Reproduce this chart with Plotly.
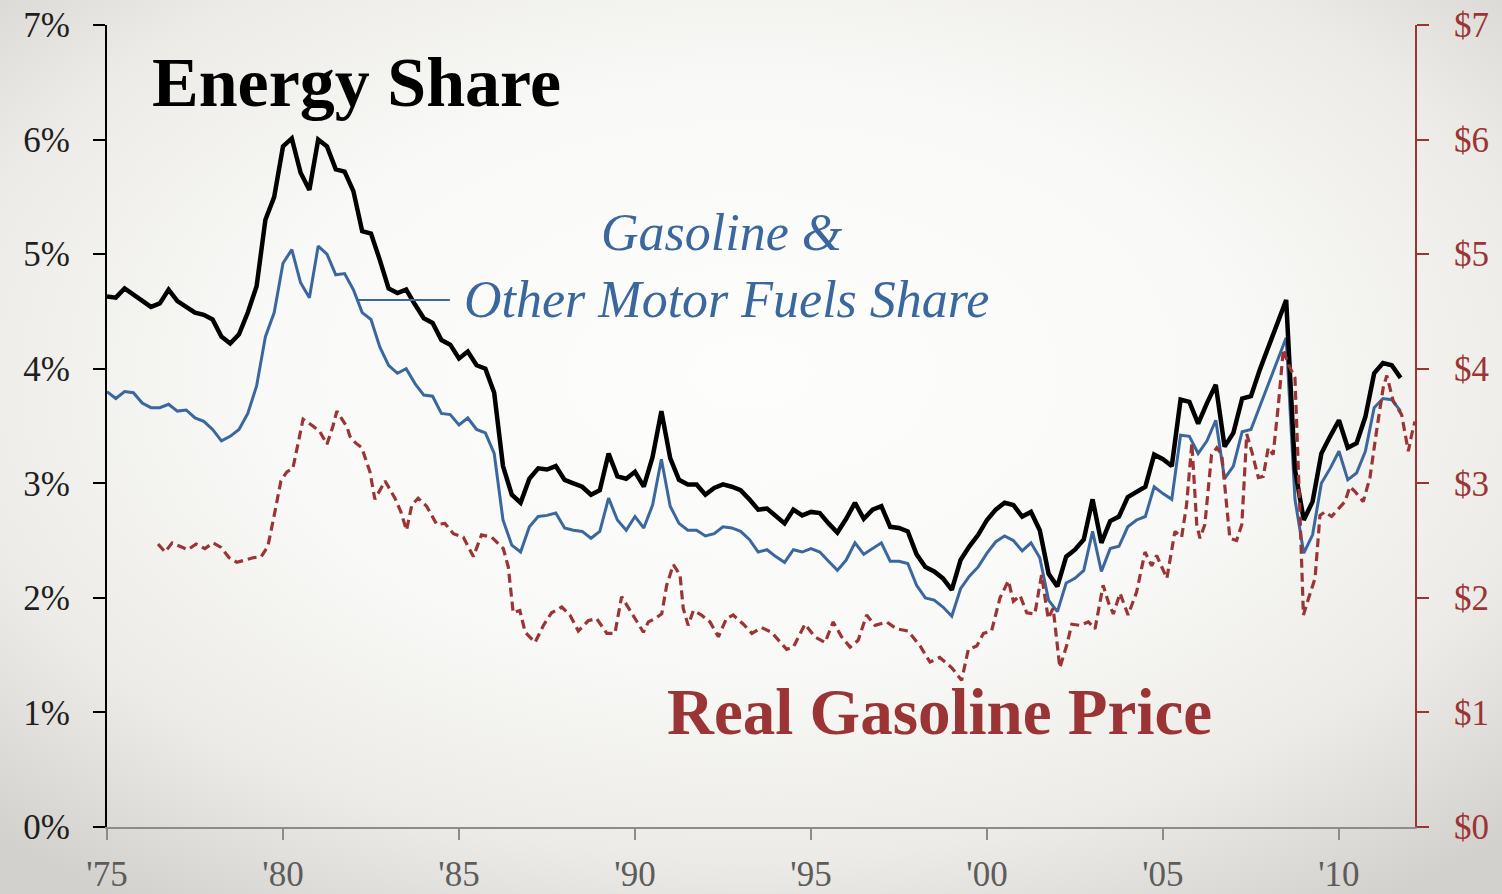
import base64
import numpy as np
import plotly.graph_objects as go

# ---------------- data ----------------
# quarterly, 1975Q1 .. 2011Q4
quarters = np.arange(1975.0, 2012.0, 0.25)

energy_share = [
    4.63, 4.62, 4.70, 4.65, 4.59, 4.54, 4.57, 4.69, 4.59, 4.54, 4.49, 4.47,
    4.43, 4.28, 4.22, 4.30, 4.49, 4.72, 5.30, 5.50, 5.94, 6.01, 5.71, 5.56,
    6.00, 5.94, 5.74, 5.72, 5.55, 5.20, 5.18, 4.95, 4.70, 4.66, 4.69, 4.56,
    4.44, 4.40, 4.25, 4.21, 4.09, 4.15, 4.03, 4.00, 3.79, 3.15, 2.90, 2.83,
    3.04, 3.13, 3.12, 3.15, 3.03, 3.00, 2.97, 2.90, 2.94, 3.26, 3.06, 3.04,
    3.10, 2.97, 3.23, 3.63, 3.22, 3.03, 2.99, 2.99, 2.90, 2.96, 2.99, 2.97,
    2.94, 2.86, 2.77, 2.78, 2.71, 2.65, 2.77, 2.72, 2.75, 2.74, 2.65, 2.57,
    2.69, 2.83, 2.69, 2.77, 2.80, 2.62, 2.61, 2.58, 2.38, 2.27, 2.23, 2.17,
    2.07, 2.33, 2.45, 2.55, 2.68, 2.77, 2.83, 2.81, 2.71, 2.75, 2.59, 2.21,
    2.10, 2.36, 2.42, 2.51, 2.86, 2.48, 2.67, 2.71, 2.88, 2.93, 2.97, 3.25,
    3.21, 3.15, 3.73, 3.71, 3.52, 3.70, 3.86, 3.32, 3.44, 3.74, 3.76, 3.99,
    4.19, 4.40, 4.60, 3.12, 2.68, 2.84, 3.26, 3.41, 3.55, 3.31, 3.35, 3.58,
    3.96, 4.05, 4.03, 3.92,
]

motor_fuel_share = [
    3.80, 3.74, 3.80, 3.79, 3.70, 3.66, 3.66, 3.69, 3.63, 3.64, 3.57, 3.54,
    3.47, 3.37, 3.41, 3.47, 3.61, 3.85, 4.28, 4.49, 4.92, 5.04, 4.75, 4.62,
    5.07, 5.00, 4.82, 4.83, 4.69, 4.49, 4.43, 4.19, 4.03, 3.96, 4.00, 3.87,
    3.77, 3.76, 3.61, 3.60, 3.51, 3.57, 3.47, 3.44, 3.26, 2.68, 2.46, 2.40,
    2.62, 2.71, 2.72, 2.74, 2.61, 2.59, 2.58, 2.52, 2.58, 2.87, 2.68, 2.59,
    2.71, 2.61, 2.81, 3.21, 2.80, 2.65, 2.59, 2.59, 2.54, 2.56, 2.62, 2.61,
    2.58, 2.51, 2.40, 2.42, 2.36, 2.31, 2.42, 2.40, 2.43, 2.40, 2.32, 2.24,
    2.33, 2.48, 2.38, 2.43, 2.48, 2.32, 2.32, 2.30, 2.11, 2.00, 1.98, 1.92,
    1.84, 2.08, 2.19, 2.27, 2.39, 2.49, 2.54, 2.50, 2.41, 2.48, 2.35, 1.98,
    1.88, 2.13, 2.17, 2.24, 2.58, 2.23, 2.43, 2.45, 2.62, 2.68, 2.71, 2.97,
    2.91, 2.86, 3.42, 3.41, 3.26, 3.37, 3.55, 3.04, 3.15, 3.45, 3.47, 3.67,
    3.87, 4.06, 4.27, 2.86, 2.39, 2.55, 3.00, 3.13, 3.28, 3.03, 3.09, 3.28,
    3.66, 3.74, 3.73, 3.63,
]

# real gasoline price (dollars), dates as decimal years
price_dates = [
    1976.45, 1976.65, 1976.85, 1977.07, 1977.30, 1977.53, 1977.78, 1978.01, 1978.24, 1978.47,
    1978.69, 1978.92, 1979.15, 1979.38, 1979.57, 1979.77, 1979.94, 1980.11, 1980.28, 1980.43,
    1980.57, 1980.85, 1981.05, 1981.25, 1981.42, 1981.53, 1981.82, 1981.90, 1982.07, 1982.24,
    1982.47, 1982.61, 1982.76, 1982.90, 1983.18, 1983.35, 1983.51, 1983.66, 1983.84, 1984.08,
    1984.37, 1984.60, 1984.84, 1985.12, 1985.41, 1985.64, 1985.93, 1986.26, 1986.40, 1986.54,
    1986.73, 1986.88, 1987.16, 1987.40, 1987.63, 1987.92, 1988.15, 1988.39, 1988.67, 1988.91,
    1989.20, 1989.43, 1989.62, 1989.81, 1990.00, 1990.24, 1990.38, 1990.57, 1990.76, 1990.90,
    1991.09, 1991.28, 1991.37, 1991.51, 1991.66, 1991.89, 1992.13, 1992.37, 1992.60, 1992.79,
    1993.08, 1993.32, 1993.60, 1993.88, 1994.07, 1994.31, 1994.50, 1994.83, 1995.11, 1995.40,
    1995.63, 1995.87, 1996.11, 1996.34, 1996.58, 1996.82, 1997.15, 1997.43, 1997.76, 1998.10,
    1998.38, 1998.66, 1999.00, 1999.28, 1999.47, 1999.71, 1999.90, 2000.13, 2000.37, 2000.61,
    2000.75, 2000.94, 2001.13, 2001.36, 2001.55, 2001.74, 2001.88, 2002.07, 2002.26, 2002.41,
    2002.64, 2002.88, 2003.07, 2003.30, 2003.45, 2003.59, 2003.78, 2004.01, 2004.25, 2004.49,
    2004.68, 2004.82, 2005.11, 2005.34, 2005.53, 2005.67, 2005.82, 2005.96, 2006.05, 2006.19,
    2006.38, 2006.53, 2006.67, 2006.90, 2007.09, 2007.24, 2007.38, 2007.52, 2007.71, 2007.85,
    2007.99, 2008.13, 2008.28, 2008.42, 2008.56, 2008.75, 2008.89, 2008.99, 2009.13, 2009.32,
    2009.46, 2009.60, 2009.79, 2009.98, 2010.17, 2010.31, 2010.45, 2010.69, 2010.88, 2011.07,
    2011.26, 2011.36, 2011.54, 2011.78, 2011.97, 2012.07, 2012.16,
]
price_values = [
    2.47, 2.40, 2.48, 2.45, 2.42, 2.47, 2.43, 2.48, 2.44, 2.35,
    2.31, 2.33, 2.35, 2.36, 2.45, 2.75, 3.02, 3.10, 3.13, 3.35,
    3.56, 3.50, 3.45, 3.34, 3.50, 3.63, 3.49, 3.41, 3.35, 3.31,
    3.10, 2.86, 2.95, 3.02, 2.87, 2.75, 2.59, 2.81, 2.87, 2.80,
    2.64, 2.65, 2.56, 2.53, 2.36, 2.55, 2.53, 2.43, 2.27, 1.87,
    1.89, 1.70, 1.61, 1.76, 1.87, 1.92, 1.85, 1.71, 1.80, 1.82,
    1.69, 1.69, 2.01, 1.92, 1.82, 1.70, 1.79, 1.82, 1.86, 2.11,
    2.29, 2.20, 1.91, 1.76, 1.89, 1.85, 1.79, 1.66, 1.82, 1.85,
    1.77, 1.69, 1.74, 1.70, 1.63, 1.55, 1.57, 1.77, 1.66, 1.61,
    1.79, 1.66, 1.57, 1.63, 1.85, 1.76, 1.79, 1.73, 1.71, 1.58,
    1.44, 1.48, 1.39, 1.28, 1.55, 1.58, 1.69, 1.71, 2.00, 2.15,
    1.97, 2.02, 1.87, 1.86, 2.20, 1.82, 1.91, 1.39, 1.58, 1.77,
    1.76, 1.79, 1.73, 2.11, 1.96, 1.86, 2.04, 1.85, 2.05, 2.40,
    2.28, 2.37, 2.17, 2.58, 2.53, 2.81, 3.35, 2.64, 2.52, 2.64,
    3.25, 3.31, 3.25, 2.52, 2.50, 2.64, 3.43, 3.28, 3.05, 3.06,
    3.31, 3.25, 3.69, 4.17, 4.04, 3.92, 2.75, 1.85, 1.99, 2.17,
    2.72, 2.75, 2.71, 2.78, 2.84, 2.97, 2.93, 2.84, 3.05, 3.46,
    3.84, 3.94, 3.72, 3.60, 3.28, 3.43, 3.54,
]

x_tick_vals = [1975, 1980, 1985, 1990, 1995, 2000, 2005, 2010]
x_tick_text = ["'75", "'80", "'85", "'90", "'95", "'00", "'05", "'10"]
left_tick_vals = [0, 1, 2, 3, 4, 5, 6, 7]
left_tick_text = ["0%", "1%", "2%", "3%", "4%", "5%", "6%", "7%"]
right_tick_text = ["$0", "$1", "$2", "$3", "$4", "$5", "$6", "$7"]

# ---------------- style ----------------
SERIF = "Liberation Serif, Times New Roman, serif"
BLACK = "#000000"
BLUE = "#3a679d"
RED = "#9b3434"

W, H = 1502, 894
ML, MR, MT, MB = 107, 87, 25, 67
PW, PH = W - ML - MR, H - MT - MB

svg = f"""<svg xmlns='http://www.w3.org/2000/svg' width='{W}' height='{H}' viewBox='0 0 {W} {H}' preserveAspectRatio='none'>
<defs><radialGradient id='g' cx='50%' cy='42%' r='72%'>
<stop offset='0' stop-color='#fdfdfc'/>
<stop offset='0.45' stop-color='#f9f9f7'/>
<stop offset='0.75' stop-color='#ecebe7'/>
<stop offset='1' stop-color='#d3d1cd'/>
</radialGradient></defs>
<rect x='0' y='0' width='{W}' height='{H}' fill='url(#g)'/></svg>"""
bg_src = "data:image/svg+xml;base64," + base64.b64encode(svg.encode()).decode()

fig = go.Figure()

fig.add_trace(go.Scatter(
    x=price_dates, y=price_values, yaxis="y2", mode="lines",
    line=dict(color=RED, width=3.2, dash="9px,5px"), hoverinfo="skip",
))
fig.add_trace(go.Scatter(
    x=quarters, y=motor_fuel_share, mode="lines",
    line=dict(color=BLUE, width=3), hoverinfo="skip",
))
fig.add_trace(go.Scatter(
    x=quarters, y=energy_share, mode="lines",
    line=dict(color=BLACK, width=4.5), hoverinfo="skip",
))

fig.update_layout(
    width=W, height=H,
    template="none",
    showlegend=False,
    margin=dict(l=ML, r=MR, t=MT, b=MB, pad=0),
    paper_bgcolor="#f2f1ee",
    plot_bgcolor="rgba(0,0,0,0)",
    images=[dict(
        source=bg_src, xref="paper", yref="paper",
        x=-ML / PW, y=1 + MT / PH, sizex=W / PW, sizey=H / PH,
        xanchor="left", yanchor="top", sizing="stretch", layer="below",
    )],
    xaxis=dict(
        range=[1975, 2012.16], tickvals=x_tick_vals, ticktext=x_tick_text,
        showgrid=False, zeroline=False, showline=True, linecolor="#8c8c8c", linewidth=2,
        ticks="outside", ticklen=11, tickwidth=2, tickcolor="#8c8c8c",
        tickfont=dict(family=SERIF, size=35, color="#5c5c5c"),
        ticklabelstandoff=4, automargin=False,
    ),
    yaxis=dict(
        range=[0, 7], tickvals=left_tick_vals, ticktext=left_tick_text,
        showgrid=False, zeroline=False, showline=True, linecolor=BLACK, linewidth=2,
        ticks="outside", ticklen=12, tickwidth=2, tickcolor=BLACK,
        tickfont=dict(family=SERIF, size=35, color="#1e1e1e"),
        ticklabelstandoff=16, automargin=False,
    ),
    yaxis2=dict(
        range=[0, 7], tickvals=left_tick_vals, ticktext=right_tick_text,
        overlaying="y", side="right",
        showgrid=False, zeroline=False, showline=True, linecolor=RED, linewidth=2,
        ticks="outside", ticklen=12, tickwidth=2, tickcolor=RED,
        tickfont=dict(family=SERIF, size=35, color=RED),
        ticklabelstandoff=18, automargin=False,
    ),
)

# connector from label to the motor-fuels line
fig.add_shape(type="line", xref="x", yref="y",
              x0=1982.13, x1=1984.74, y0=4.60, y1=4.60,
              line=dict(color=BLUE, width=2))

fig.add_annotation(text="<b>Energy Share</b>", xref="x", yref="y",
                   x=1976.22, y=6.50, xanchor="left", yanchor="middle", showarrow=False,
                   font=dict(family=SERIF, size=70, color=BLACK))
fig.add_annotation(text="<i>Gasoline &</i>", xref="x", yref="y",
                   x=1992.47, y=5.19, xanchor="center", yanchor="middle", showarrow=False,
                   font=dict(family=SERIF, size=52, color=BLUE))
fig.add_annotation(text="<i>Other Motor Fuels Share</i>", xref="x", yref="y",
                   x=1985.09, y=4.60, xanchor="left", yanchor="middle", showarrow=False,
                   font=dict(family=SERIF, size=52, color=BLUE))
fig.add_annotation(text="<b>Real Gasoline Price</b>", xref="x", yref="y",
                   x=1990.85, y=1.00, xanchor="left", yanchor="middle", showarrow=False,
                   font=dict(family=SERIF, size=65, color=RED))

fig.write_html(
    "out.html",
    config={"displayModeBar": False},
    post_script="document.body.style.margin='0';document.body.style.overflow='hidden';",
)
